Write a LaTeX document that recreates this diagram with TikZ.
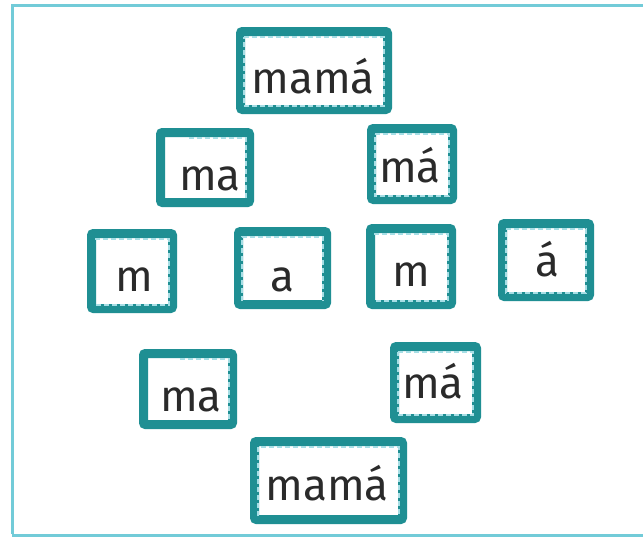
\documentclass[tikz,border=0pt]{standalone}
\usepackage{fontspec}
\setmainfont{Fira Sans}
\usetikzlibrary{calc}
\definecolor{teal1}{HTML}{1F8F93}
\definecolor{dashcyan}{HTML}{A6DEE5}
\definecolor{framecyan}{HTML}{72CBD8}
\definecolor{inkgray}{HTML}{2A2A2A}
\tikzset{
  wbox/.style={draw=teal1, line width=9pt, rounded corners=2pt, fill=white, inner sep=0pt},
  wtext/.style={anchor=base, inner sep=0pt, text=inkgray, font=\fontsize{44}{48}\selectfont},
  dline/.style={draw=dashcyan, line width=2.6pt, dash pattern=on 5pt off 3pt},
  framel/.style={draw=framecyan, line width=3pt},
}
\newcommand\corners[1]{%
  \coordinate (#1a) at ($(#1.north west)+(8,10)$);
  \coordinate (#1b) at ($(#1.north east)+(-8,10)$);
  \coordinate (#1c) at ($(#1.south east)+(-8,-8)$);
  \coordinate (#1d) at ($(#1.south west)+(8,-8)$);}
\begin{document}
\begin{tikzpicture}[x=1pt,y=-1pt]
\useasboundingbox (0,0) rectangle (643,538);
\fill[white] (0,0) rectangle (643,538);
% outer frame
\coordinate (f1) at (12,534);
\coordinate (f2) at (12,5);
\coordinate (f3) at (643,5);
\coordinate (f4) at (12,535);
\coordinate (f5) at (643,535);
\draw[framel] (f1) -- (f2) -- (f3);
\draw[framel] (f4) -- (f5);

% boxes
\node[wbox, minimum width=147pt, minimum height=78pt] (b1) at (314,70.5) {};
\node[wbox, minimum width=89pt, minimum height=70pt] (b2) at (205,167.5) {};
\node[wbox, minimum width=81pt, minimum height=71pt] (b3) at (412,164) {};
\node[wbox, minimum width=81pt, minimum height=75pt] (b4) at (132,271) {};
\node[wbox, minimum width=88pt, minimum height=73pt] (b5) at (282.5,268) {};
\node[wbox, minimum width=81pt, minimum height=76pt] (b6) at (411,266.5) {};
\node[wbox, minimum width=87pt, minimum height=73pt] (b7) at (546,260) {};
\node[wbox, minimum width=89pt, minimum height=71pt] (b8) at (188,389) {};
\node[wbox, minimum width=82pt, minimum height=72pt] (b9) at (435.5,382.5) {};
\node[wbox, minimum width=148pt, minimum height=78pt] (b10) at (328.5,480.5) {};

\corners{b1}\corners{b2}\corners{b3}\corners{b4}\corners{b5}
\corners{b6}\corners{b7}\corners{b8}\corners{b9}\corners{b10}

% dashed inner guides
\draw[dline] (b1a) -- (b1b) -- (b1c) -- (b1d) -- cycle;
\draw[dline] ($(b2a)!0.3!(b2b)$) -- (b2b) -- (b2c);
\draw[dline] (b3a) -- (b3b) -- (b3c) -- (b3d) -- cycle;
\draw[dline] (b4a) -- (b4b) -- (b4c) -- (b4d);
\draw[dline] (b5d) -- (b5a) -- (b5b) -- (b5c);
\draw[dline] (b6a) -- (b6b) -- (b6c) -- (b6d);
\draw[dline] (b7a) -- (b7b) -- (b7c) -- (b7d) -- cycle;
\draw[dline] ($(b8a)!0.4!(b8b)$) -- (b8b) -- (b8c);
\draw[dline] (b9a) -- (b9b) -- (b9c) -- (b9d) -- cycle;
\draw[dline] (b10d) -- (b10a) -- (b10b) -- (b10c);

% words
\node[wtext] (t1) at (313,93) {mamá};
\node[wtext] (t2) at (210,190) {ma};
\node[wtext] (t3) at (410,182) {má};
\node[wtext] (t4) at (134,291) {m};
\node[wtext] (t5) at (282,291) {a};
\node[wtext] (t6) at (411,286) {m};
\node[wtext] (t7) at (547,276) {á};
\node[wtext] (t8) at (191,411) {ma};
\node[wtext] (t9) at (433,398) {má};
\node[wtext] (t10) at (327,500) {mamá};
\end{tikzpicture}
\end{document}
